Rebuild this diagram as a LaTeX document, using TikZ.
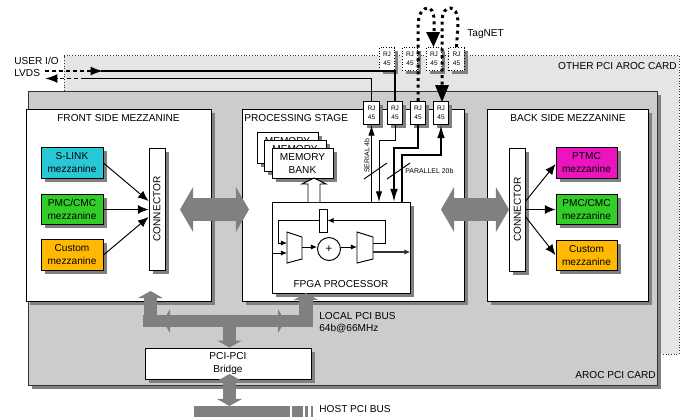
\documentclass[tikz,border=0pt]{standalone}
\usepackage{fontspec}
\setmainfont{Liberation Sans}
\usetikzlibrary{arrows.meta,shadows}
\tikzset{
  sized/.style 2 args={minimum width=#1*0.2mm,minimum height=#2*0.2mm,inner sep=0pt},
  shadowed/.style={general shadow={shadow xshift=2pt,shadow yshift=-2pt,fill=black!50}},
  panel/.style={draw,fill=white,line width=0.55pt,shadowed,align=center,font=\fontsize{5.75}{7.4}\selectfont},
  rjbox/.style={panel,sized={15.5}{23},font=\fontsize{3.7}{5.4}\selectfont},
  rjtop/.style={rjbox,densely dotted},
  title/.style={inner sep=0pt,font=\fontsize{5.75}{7.4}\selectfont},
  tiny/.style={inner sep=0pt,font=\fontsize{3.95}{5}\selectfont},
  sig/.style={line width=0.55pt},
  sighead/.style={sig,-{Latex[length=6pt,width=3.6pt]}},
  widehead/.style={line width=0.9pt,-{Latex[length=7.5pt,width=4.4pt]}},
  inhead/.style={sig,-{Latex[length=3.5pt,width=3pt]}},
  mezzarrow/.style={sig,-{Latex[length=6pt,width=5pt]}},
  tagline/.style={line width=1.7pt,dash pattern=on 1.7pt off 2.1pt},
  bigbus/.style={draw=black!50,line width=13pt,{Triangle[length=7.5pt,width=25.5pt,fill=black!50]}-{Triangle[length=7.5pt,width=25.5pt,fill=black!50]}},
  pcibus/.style={draw=black!50,line width=7.5pt},
  pcihead/.style={pcibus,-{Triangle[length=4pt,width=14pt,fill=black!50]}},
}
\definecolor{slinkcol}{RGB}{40,200,215}
\definecolor{pmccol}{RGB}{50,205,40}
\definecolor{customcol}{RGB}{255,185,0}
\definecolor{ptmccol}{RGB}{235,20,190}
\begin{document}
\begin{tikzpicture}[x=0.2mm,y=-0.2mm]
  \useasboundingbox (0,0) rectangle (690,417);

  % cards
  \fill[black!10] (64,55.5) rectangle (679,354);
  \draw[densely dotted,line width=0.55pt,black!80] (64,91) -- (64,55.5) -- (679,55.5) -- (679,354) -- (660,354);
  \node[draw=black!80,fill=black!20,line width=0.55pt,sized={629}{294},shadowed] (aroc) at (342.5,238) {};

  % mezzanine panels
  \node[panel,sized={185}{192}] (front) at (118.5,205.5) {};
  \node[panel,sized={222}{192}] (proc) at (353,205.5) {};
  \node[panel,sized={161}{192}] (back) at (567.5,205.5) {};
  \node[title] at (118.5,118) {FRONT SIDE MEZZANINE};
  \node[title,anchor=west] at (244,118) {PROCESSING STAGE};
  \node[title] at (568,118) {BACK SIDE MEZZANINE};

  % front side
  \node[panel,sized={62}{30.5},fill=slinkcol] (slink) at (72,163) {S-LINK\\mezzanine};
  \node[panel,sized={62}{30.5},fill=pmccol] (pmcf) at (72,209.5) {PMC/CMC\\mezzanine};
  \node[panel,sized={62}{30.5},fill=customcol] (custf) at (72,255) {Custom\\mezzanine};
  \node[panel,sized={16}{122}] (connf) at (157,209) {\rotatebox{90}{CONNECTOR}};
  \draw[mezzarrow] (slink.east) -- (connf.west |- 0,201);
  \draw[mezzarrow] (pmcf.east) -- (connf.west |- pmcf.east);
  \draw[mezzarrow] (custf.east) -- (connf.west |- 0,217);

  % back side
  \node[panel,sized={15.5}{123}] (connb) at (517.5,209.5) {\rotatebox{90}{CONNECTOR}};
  \node[panel,sized={61}{30.5},fill=ptmccol] (ptmc) at (586.5,163) {PTMC\\mezzanine};
  \node[panel,sized={61}{30.5},fill=pmccol] (pmcb) at (586.5,209.5) {PMC/CMC\\mezzanine};
  \node[panel,sized={61}{30.5},fill=customcol] (custb) at (586.5,255.5) {Custom\\mezzanine};
  \draw[mezzarrow] (connb.east |- 0,201) -- (ptmc.west |- 0,164);
  \draw[mezzarrow] (connb.east |- pmcb.west) -- (pmcb.west);
  \draw[mezzarrow] (connb.east |- 0,217) -- (custb.west |- 0,255);

  % memory and fpga
  \node[panel,sized={61}{31}] (mem3) at (287.5,147.5) {MEMORY\\BANK};
  \node[panel,sized={62}{31}] (mem2) at (295,155.5) {MEMORY\\BANK};
  \node[panel,sized={61}{30.5}] (mem1) at (302.5,163.3) {MEMORY\\BANK};
  \node[panel,sized={138}{91}] (fpga) at (341,247.5) {};
  \node[title] at (341,284) {FPGA PROCESSOR};
  \draw[fill=white,line width=0.55pt] (308,202) -- (308,184) -- (302,184) -- (314,178) -- (326,184) -- (320,184) -- (320,202);

  % processor internals
  \node[draw,fill=white,line width=0.55pt,sized={8}{23}] (reg) at (323,220.5) {};
  \node[draw,circle,line width=0.55pt,minimum size=4.6mm,inner sep=0pt,font=\fontsize{6.5}{7}\selectfont] (adder) at (329,249) {+};
  \draw[line width=0.55pt,fill=white] (287,232) -- (302,237) -- (302,259) -- (287,263) -- cycle;
  \draw[line width=0.55pt,fill=white] (357,232) -- (373,237) -- (373,259) -- (357,263) -- cycle;
  \coordinate (muxlin) at (287,243);
  \coordinate (muxlout) at (302,247);
  \coordinate (muxrin) at (357,247);
  \coordinate (muxrfb) at (373,243);
  \coordinate (muxrout) at (373,252);
  \draw[inhead] (reg.west) -| (278,243) -- (muxlin);
  \draw[inhead] (fpga.west |- 0,253) -- (287,253);
  \draw[inhead] (muxlout) -- (adder.west |- muxlout);
  \draw[inhead] (adder.east |- muxrin) -- (muxrin);
  \draw[inhead] (muxrfb) -- (385,243) |- (reg.east);
  \draw[inhead,line width=0.9pt,black!80] (muxrout) -- (fpga.east |- muxrout);

  % rj45 connectors
  \node[rjtop] (top1) at (387,59) {RJ\\45};
  \node[rjtop] (top2) at (410,59) {RJ\\45};
  \node[rjtop] (top3) at (434,59) {RJ\\45};
  \node[rjtop] (top4) at (456.5,59) {RJ\\45};
  \node[rjbox] (rj1) at (371.5,113) {RJ\\45};
  \node[rjbox] (rj2) at (395,113) {RJ\\45};
  \node[rjbox] (rj3) at (418,113) {RJ\\45};
  \node[rjbox] (rj4) at (441,113) {RJ\\45};

  % user i/o
  \node[title,anchor=west] (user) at (14,60.5) {USER I/O};
  \node[title,anchor=west] (lvds) at (14,73.5) {LVDS};
  \coordinate (inA) at (45,71);
  \coordinate (inB) at (103,71);
  \coordinate (outA) at (85,78.5);
  \coordinate (outB) at (45,78.5);
  \draw[line width=0.9pt,dash pattern=on 2.2pt off 1.8pt] (inA) -- (inB);
  \draw[line width=0.9pt,-{Latex[length=7pt,width=5pt]}] (90,71) -- (inB);
  \draw[line width=0.9pt] (inB) -| (rj2.north);
  \draw[line width=0.9pt,dash pattern=on 2.2pt off 1.8pt] (outA) -- (57,78.5);
  \draw[line width=0.9pt,-{Latex[length=7pt,width=5pt]}] (58,78.5) -- (outB);
  \draw[line width=0.9pt] (rj1.north) |- (outA);

  % rj45 to fpga
  \draw[sighead] (rj1.south |- fpga.north) -- (rj1.south);
  \draw[sighead] (rj2.south) |- (379,140) -- (379,202);
  \draw[widehead] (rj3.south) |- (394,148) -- (394,202);
  \draw[widehead] (402,202) |- (441,155) -- (rj4.south);
  \draw[sig] (364,179) -- (387,163);
  \draw[sig] (387,179) -- (410,163);
  \node[tiny,rotate=90] at (367,155.5) {SERIAL 4b};
  \node[tiny,anchor=west] at (405,171) {PARALLEL 20b};

  % tagnet
  \draw[tagline] (rj3.north) -- (418,26) .. controls (418,12) and (424,8) .. (428,8) .. controls (431,8) and (434,12) .. (434,20) -- (434,32);
  \draw[tagline] (top4.north) -- (458,24) .. controls (458,12) and (454,8) .. (450,8) .. controls (446,8) and (442,12) .. (442,22) -- (442,85);
  \fill (426,32) -- (440,32) -- (433.5,47) -- cycle;
  \fill (435,85) -- (449,85) -- (442,102) -- cycle;
  \node[title,anchor=west] (tagnet) at (467,34) {TagNET};

  % big arrows
  \coordinate (fpleft) at (180,209.5);
  \coordinate (fpright) at (249,209.5);
  \coordinate (pbleft) at (441,209.5);
  \coordinate (pbright) at (509,209.5);
  \draw[bigbus] (fpleft) -- (fpright);
  \draw[bigbus] (pbleft) -- (pbright);

  % pci bus
  \node[panel,sized={166}{31}] (bridge) at (228,363.5) {PCI-PCI\\Bridge};
  \coordinate (busL) at (143,321);
  \coordinate (busR) at (313,321);
  \coordinate (busC) at (229.5,321);
  \draw[pcibus,line width=6.8pt] (busL) -- (busR);
  \draw[pcihead] (150.5,327) -- (150.5,291);
  \draw[pcihead] (306,327) -- (306,293);
  \draw[pcihead] (busC) -- (busC |- bridge.north);
  \fill[black!50] (163,321) -- (170,309) -- (170,333) -- cycle;
  \fill[black!50] (285,321) -- (278,309) -- (278,333) -- cycle;
  \coordinate (hostC) at (229.5,406);
  \draw[pcihead,{Triangle[length=4pt,width=14pt,fill=black!50]}-{Triangle[length=4pt,width=14pt,fill=black!50]}] (229.5,374) -- (hostC);
  \fill[black!50] (194,406) rectangle (290,417);
  \fill[black!50] (292,406) rectangle (303,417);
  \fill[black!50] (305,406) rectangle (307.5,417);
  \fill[black!50] (311,406) rectangle (313,417);

  % labels
  \node[title,anchor=west] at (319,316) {LOCAL PCI BUS};
  \node[title,anchor=west] at (319,329) {64b@66MHz};
  \node[title,anchor=west] at (319,409) {HOST PCI BUS};
  \node[title,anchor=east] at (656,375) {AROC PCI CARD};
  \node[title,anchor=east] at (677,66) {OTHER PCI AROC CARD};
\end{tikzpicture}
\end{document}
